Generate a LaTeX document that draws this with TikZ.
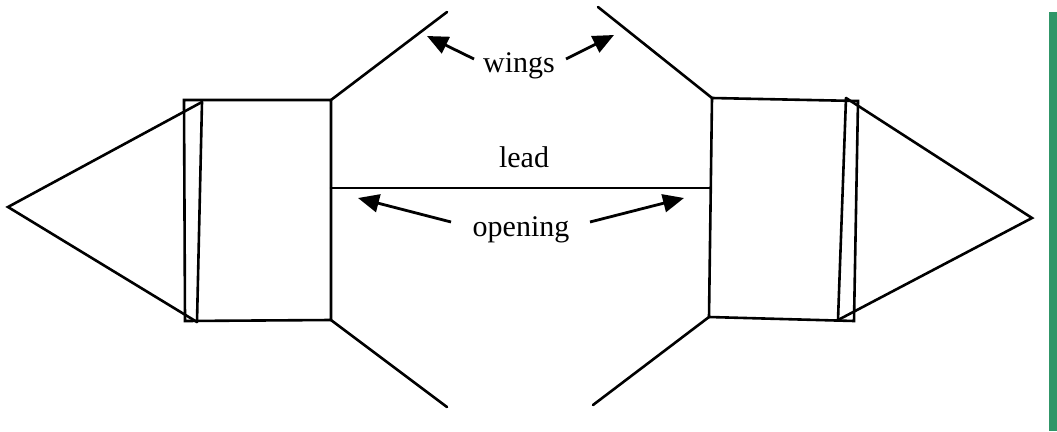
\documentclass[tikz,border=0pt]{standalone}
\usepackage{fontspec}
\setmainfont{Liberation Serif}
\usetikzlibrary{arrows.meta}
\definecolor{barGreen}{RGB}{48,150,104}
\tikzset{
  line/.style={line width=2.6pt, line join=miter, line cap=round},
  pointer/.style={line width=2.8pt, -{Triangle[length=21pt,width=18pt]}},
  lbl/.style={font=\fontsize{30}{30}\selectfont, inner sep=0pt}
}
\begin{document}
\begin{tikzpicture}[x=1pt,y=-1pt]
\useasboundingbox (0,0) rectangle (1057,431);
\fill[white] (0,0) rectangle (1057,431);
% green bar
\fill[barGreen] (1049,12) rectangle (1058,431);

% left unit
\coordinate (LA) at (8,207);
\coordinate (LT1) at (184,100);
\coordinate (LB1) at (185,321);
\coordinate (LTs) at (202,102);
\coordinate (LBs) at (197,322);
\coordinate (LTR) at (331,100);
\coordinate (LBR) at (331,320);
\draw[line] (LT1) -- (LTR) -- (LBR) -- (LB1) -- cycle;
\draw[line] (LTs) -- (LBs);
\draw[line] (LTs) -- (LA) -- (LBs);

% right unit
\coordinate (RA) at (1032,218);
\coordinate (RTL) at (712,98);
\coordinate (RBL) at (709,317);
\coordinate (RTR) at (858,101);
\coordinate (RBR) at (854,321);
\coordinate (RTs) at (846,98);
\coordinate (RBs) at (838,320);
\draw[line] (RTL) -- (RTR) -- (RBR) -- (RBL) -- cycle;
\draw[line] (RTs) -- (RBs);
\draw[line] (RTs) -- (RA) -- (RBs);

% wings
\coordinate (W1) at (447,12);
\coordinate (W2) at (598,7);
\coordinate (W3) at (447,407);
\coordinate (W4) at (593,405);
\draw[line] (LTR) -- (W1);
\draw[line] (RTL) -- (W2);
\draw[line] (LBR) -- (W3);
\draw[line] (RBL) -- (W4);

% lead
\coordinate (LeadL) at (331,188);
\coordinate (LeadR) at (710,188);
\draw[line] (LeadL) -- (LeadR);

% labels
\node[lbl] (wings) at (519,66) {wings};
\node[lbl] (lead) at (524,157) {lead};
\node[lbl] (opening) at (521,230) {opening};

% arrows
\coordinate (wt1) at (474,59);
\coordinate (wh1) at (427,36);
\coordinate (wt2) at (566,59);
\coordinate (wh2) at (614,35);
\coordinate (ot1) at (451,222);
\coordinate (oh1) at (358,198);
\coordinate (ot2) at (590,222);
\coordinate (oh2) at (684,198);
\draw[pointer] (wt1) -- (wh1);
\draw[pointer] (wt2) -- (wh2);
\draw[pointer] (ot1) -- (oh1);
\draw[pointer] (ot2) -- (oh2);
\end{tikzpicture}
\end{document}
